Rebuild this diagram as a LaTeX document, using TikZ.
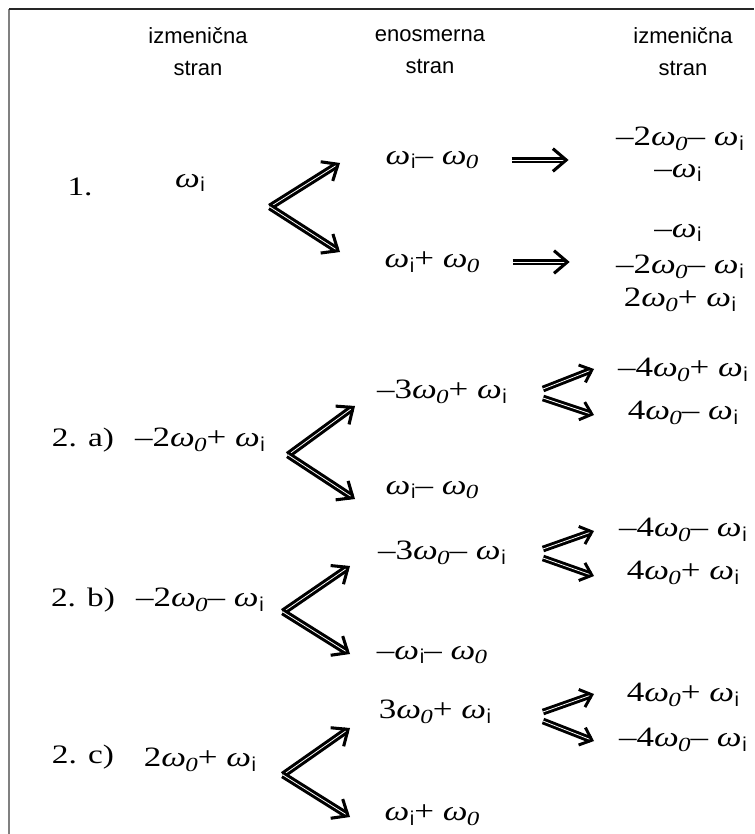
\documentclass[tikz,border=0pt]{standalone}
\usepackage{fontspec}
\setmainfont[FakeStretch=1.25]{Liberation Serif}
\setsansfont{Liberation Sans}
\usepackage{tikz}
\usetikzlibrary{arrows.meta, positioning}
\usetikzlibrary{calc}
\usepackage{xcolor}
\definecolor{framegray}{RGB}{128, 128, 128}

% omega with subscripts
\newcommand{\wsub}[1]{\raisebox{-0.35ex}{\fontsize{15}{15}\selectfont #1}}
\newcommand{\wi}{{\itshape ω}\kern0.5pt\wsub{\sffamily i}}
\newcommand{\wo}{{\itshape ω\kern-0.5pt\wsub{0}}}

\begin{document}
\begin{tikzpicture}[
			x=0.75pt, y=-0.75pt,
			>=Stealth,
			% text styles
			head/.style={
				align=center, inner sep=0pt,
				font=\sffamily\fontsize{16.5}{24}\selectfont
			},
			rowlabel/.style={
				inner sep=0pt, font=\fontsize{20}{20}\selectfont
			},
			term/.style={
				inner sep=0pt, font=\fontsize{21}{21}\selectfont
			},
			% arrow styles
			fork/.style={
				double, double distance=0.6pt, line width=2.3pt,
				-{Straight Barb[length=10pt, width=17pt, line width=2.3pt]}
			},
			smallfork/.style={
				double, double distance=0.6pt, line width=2.2pt,
				-{Straight Barb[length=8pt, width=14pt, line width=2.2pt]}
			},
			frame/.style={line width=1.5pt}
		]

		\useasboundingbox (0,0) rectangle (754,834);

		% Frame
		\draw[frame, framegray] (9,834) -- (9,9);
		\draw[frame, black!85] (9,9) -- (754,9);

		% Column headers
		\node[head] (head-ac1) at (198,52) {izmenična\\stran};
		\node[head] (head-dc)  at (430,52) {enosmerna\\stran};
		\node[head] (head-ac2) at (683,52) {izmenična\\stran};

		% Case 1
		\node[rowlabel] (lab-1) at (80,187) {1.};
		\node[term] (in-1) at (190,183) {\wi};
		\node[term] (dc-1u) at (432,160) {\wi– \wo};
		\node[term] (dc-1d) at (432,262) {\wi+ \wo};
		\node[term] (ac-1a) at (680,139) {–2\wo– \wi};
		\node[term] (ac-1b) at (678,173) {–\wi};
		\node[term] (ac-1c) at (678,233) {–\wi};
		\node[term] (ac-1d) at (680,267) {–2\wo– \wi};
		\node[term] (ac-1e) at (680,300) {2\wo+ \wi};

		\coordinate (fork-1) at (270,207);
		\coordinate (tip-1u) at (340,163);
		\coordinate (tip-1d) at (340,252);
		\draw[fork] (fork-1) -- (tip-1u);
		\draw[fork] (fork-1) -- (tip-1d);
		\draw[fork] ($(dc-1u.east)+(33,0)$) -- ++(57,0);
		\draw[fork] ($(dc-1d.east)+(33,0)$) -- ++(57,0);

		% Case 2 a)
		\node[rowlabel] (lab-2a) at (83,440) {2. a)};
		\node[term] (in-2a) at (200,440) {–2\wo+ \wi};
		\node[term] (dc-2au) at (442,392) {–3\wo+ \wi};
		\node[term] (dc-2ad) at (432,490) {\wi– \wo};
		\node[term] (ac-2au) at (683,370) {–4\wo+ \wi};
		\node[term] (ac-2ad) at (683,413) {4\wo– \wi};

		\coordinate (fork-2a) at (288,455);
		\coordinate (tip-2au) at (355,406);
		\coordinate (tip-2ad) at (355,499);
		\draw[fork] (fork-2a) -- (tip-2au);
		\draw[fork] (fork-2a) -- (tip-2ad);
		\coordinate (sfork-2a) at (543,393);
		\draw[smallfork] ($(sfork-2a)+(0,-4)$) -- (594,369);
		\draw[smallfork] ($(sfork-2a)+(0,5)$) -- (594,415);

		% Case 2 b)
		\node[rowlabel] (lab-2b) at (83,600) {2. b)};
		\node[term] (in-2b) at (200,600) {–2\wo– \wi};
		\node[term] (dc-2bu) at (442,553) {–3\wo– \wi};
		\node[term] (dc-2bd) at (432,655) {–\wi– \wo};
		\node[term] (ac-2bu) at (683,530) {–4\wo– \wi};
		\node[term] (ac-2bd) at (683,573) {4\wo+ \wi};

		\coordinate (fork-2b) at (283,612);
		\coordinate (tip-2bu) at (350,566);
		\coordinate (tip-2bd) at (350,654);
		\draw[fork] (fork-2b) -- (tip-2bu);
		\draw[fork] (fork-2b) -- (tip-2bd);
		\coordinate (sfork-2b) at (543,553);
		\draw[smallfork] ($(sfork-2b)+(0,-4)$) -- (594,531);
		\draw[smallfork] ($(sfork-2b)+(0,5)$) -- (594,576);

		% Case 2 c)
		\node[rowlabel] (lab-2c) at (83,757) {2. c)};
		\node[term] (in-2c) at (200,760) {2\wo+ \wi};
		\node[term] (dc-2cu) at (435,712) {3\wo+ \wi};
		\node[term] (dc-2cd) at (432,815) {\wi+ \wo};
		\node[term] (ac-2cu) at (683,695) {4\wo+ \wi};
		\node[term] (ac-2cd) at (683,740) {–4\wo– \wi};

		\coordinate (fork-2c) at (283,775);
		\coordinate (tip-2cu) at (350,728);
		\coordinate (tip-2cd) at (350,817);
		\draw[fork] (fork-2c) -- (tip-2cu);
		\draw[fork] (fork-2c) -- (tip-2cd);
		\coordinate (sfork-2c) at (543,716);
		\draw[smallfork] ($(sfork-2c)+(0,-4)$) -- (594,694);
		\draw[smallfork] ($(sfork-2c)+(0,5)$) -- (594,741);

		\end{tikzpicture}
\end{document}
